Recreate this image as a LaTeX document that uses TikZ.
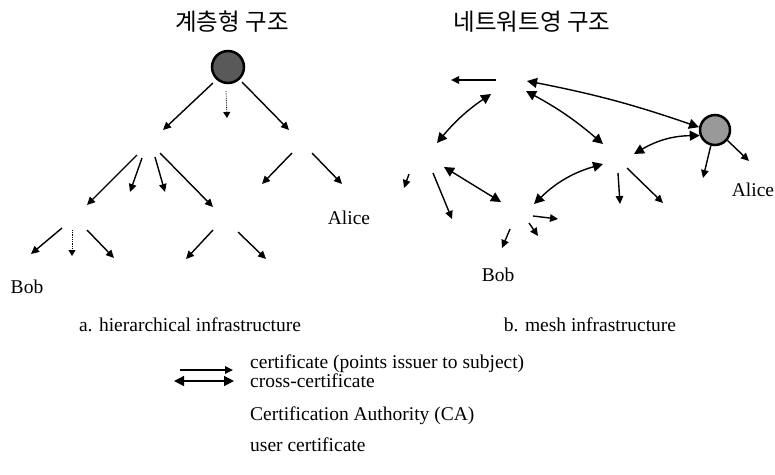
\documentclass[tikz,border=0pt]{standalone}
\usepackage{fontspec}
\setmainfont{Liberation Serif}
\newfontfamily\kr{Noto Sans CJK KR}
\usetikzlibrary{arrows.meta}
\begin{document}
\begin{tikzpicture}[x=1pt,y=-1pt,
  cert/.style={line width=1.4pt,-{Triangle[length=8pt,width=7.5pt]}},
  faint/.style={line width=0.8pt,densely dotted,-{Triangle[length=6pt,width=7pt]}},
  xcert/.style={line width=1.4pt,{Triangle[length=10pt,width=10pt]}-{Triangle[length=10pt,width=10pt]}},
  lbl/.style={font=\fontsize{19.5}{22}\selectfont,inner sep=0pt},
  ttl/.style={font=\kr\fontsize{23.5}{26}\selectfont,inner sep=0pt},
  ca/.style={circle,draw=black,line width=2.5pt,minimum size=30pt,inner sep=0pt}]
\useasboundingbox (0,0) rectangle (775,474);

% ---------- titles ----------
\node[ttl] (t1) at (232,22) {계층형 구조};
\node[ttl] (t2) at (532,22) {네트워트영 구조};

% ---------- hierarchical tree ----------
\node[ca,fill=black!65,minimum size=32pt] (root) at (228,67) {};
\coordinate (r1) at (213,83);   \coordinate (r1e) at (163,130);
\coordinate (r2) at (226,91);   \coordinate (r2e) at (227,118);
\coordinate (r3) at (242,82);   \coordinate (r3e) at (289,130);
\draw[cert] (r1) -- (r1e);
\draw[faint] (r2) -- (r2e);
\draw[cert] (r3) -- (r3e);

\coordinate (a1) at (137,155);  \coordinate (a1e) at (87,205);
\coordinate (a2) at (142,158);  \coordinate (a2e) at (130,192);
\coordinate (a3) at (155,157);  \coordinate (a3e) at (165,192);
\coordinate (a4) at (160,153);  \coordinate (a4e) at (213,207);
\draw[cert] (a1) -- (a1e);
\draw[cert] (a2) -- (a2e);
\draw[cert] (a3) -- (a3e);
\draw[cert] (a4) -- (a4e);

\coordinate (b1) at (292,153);  \coordinate (b1e) at (262,184);
\coordinate (b2) at (312,153);  \coordinate (b2e) at (342,184);
\draw[cert] (b1) -- (b1e);
\draw[cert] (b2) -- (b2e);
\node[lbl] (alice1) at (349,218) {Alice};

\coordinate (c1) at (62,228);   \coordinate (c1e) at (31,254);
\coordinate (c2) at (72,230);   \coordinate (c2e) at (72,256);
\coordinate (c3) at (87,230);   \coordinate (c3e) at (114,258);
\draw[cert] (c1) -- (c1e);
\draw[faint] (c2) -- (c2e);
\draw[cert] (c3) -- (c3e);

\coordinate (d1) at (213,230);  \coordinate (d1e) at (186,259);
\coordinate (d2) at (238,232);  \coordinate (d2e) at (266,259);
\draw[cert] (d1) -- (d1e);
\draw[cert] (d2) -- (d2e);
\node[lbl] (bob1) at (27,287) {Bob};

\node[lbl] (cap1) at (190,325) {a. hierarchical infrastructure};

% ---------- mesh ----------
\node[ca,fill=black!40] (alice) at (715,130) {};
\coordinate (m0) at (496,80);   \coordinate (m0e) at (451,80);
\draw[cert] (m0) -- (m0e);
\coordinate (m1) at (491,94);   \coordinate (m1e) at (437,143);
\draw[xcert] (m1) to[bend right=8] (m1e);
\coordinate (m2) at (527,81);
\draw[xcert] (m2) to[bend left=4] (alice.170);
\coordinate (m3) at (526,91);   \coordinate (m3e) at (603,144);
\draw[xcert] (m3) to[bend left=6] (m3e);
\coordinate (m4e) at (634,154);
\draw[xcert] (alice.200) to[bend right=15] (m4e);
\coordinate (m5e) at (703,178);
\draw[cert] (alice.255) -- (m5e);
\coordinate (m6e) at (749,161);
\draw[cert] (alice.-40) -- (m6e);
\node[lbl] (alice2) at (753,190) {Alice};

\coordinate (n1) at (409,174);  \coordinate (n1e) at (404,188);
\coordinate (n2) at (433,173);  \coordinate (n2e) at (452,219);
\coordinate (n3) at (444,167);  \coordinate (n3e) at (501,202);
\draw[cert] (n1) -- (n1e);
\draw[cert] (n2) -- (n2e);
\draw[xcert] (n3) -- (n3e);

\coordinate (p1) at (603,164);  \coordinate (p1e) at (534,204);
\coordinate (p2) at (618,173);  \coordinate (p2e) at (620,204);
\coordinate (p3) at (627,168);  \coordinate (p3e) at (663,203);
\draw[xcert] (p1) to[bend right=14] (p1e);
\draw[cert] (p2) -- (p2e);
\draw[cert] (p3) -- (p3e);

\coordinate (q1) at (533,216);  \coordinate (q1e) at (558,219);
\coordinate (q2) at (529,223);  \coordinate (q2e) at (538,236);
\coordinate (q3) at (510,229);  \coordinate (q3e) at (502,248);
\draw[cert] (q1) -- (q1e);
\draw[cert] (q2) -- (q2e);
\draw[cert] (q3) -- (q3e);
\node[lbl] (bob2) at (498,275) {Bob};

\node[lbl] (cap2) at (590,325) {b. mesh infrastructure};

% ---------- legend ----------
\coordinate (k1) at (180,370);  \coordinate (k1e) at (233,370);
\draw[cert] (k1) -- (k1e);
\node[lbl,anchor=west] (l1) at (250,364) {certificate (points issuer to subject)};
\coordinate (k2) at (174,381);  \coordinate (k2e) at (234,381);
\draw[xcert] (k2) -- (k2e);
\node[lbl,anchor=west] (l2) at (250,381) {cross-certificate};
\node[lbl,anchor=west] (l3) at (250,416) {Certification Authority (CA)};
\node[lbl,anchor=west] (l4) at (250,445) {user certificate};
\end{tikzpicture}
\end{document}
